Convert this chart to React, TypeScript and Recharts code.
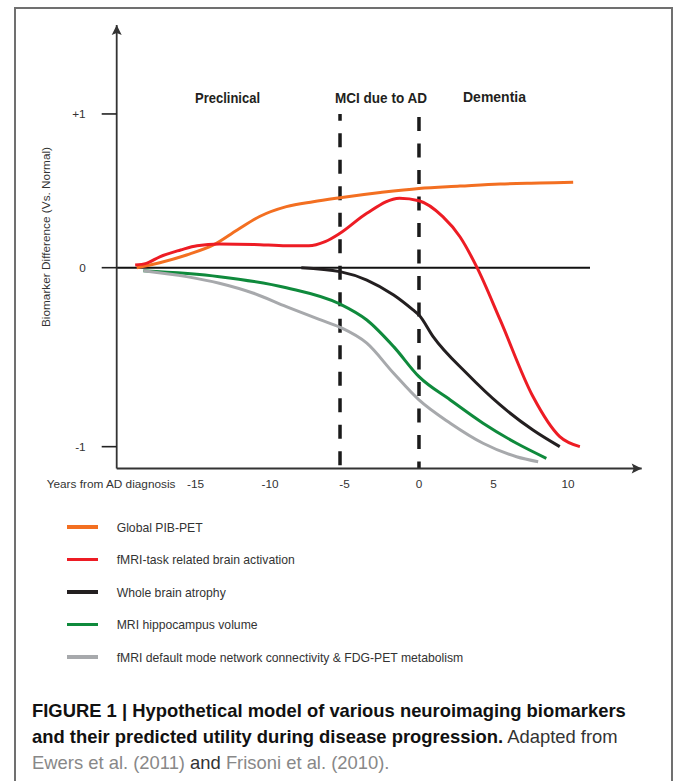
import React from 'react';
import { LineChart, Line, XAxis, YAxis, ReferenceLine, ReferenceDot, Legend } from 'recharts';

// years from AD diagnosis / biomarker difference
const pibYears = [-18.95, -17.4, -15.6, -13.8, -12.2, -10.7, -8.9, -7.1, -5.3, -2.6, 0, 2.75, 5.45, 8.1, 10.35];
const pibValues = [0, 0.028, 0.071, 0.127, 0.211, 0.286, 0.341, 0.369, 0.391, 0.42, 0.443, 0.456, 0.468, 0.473, 0.477];

const taskYears = [-19.05, -18.3, -17.4, -16.0, -14.9, -13.4, -11.1, -8.9, -7.4, -6.3, -5.3, -3.5, -1.3, 0, 1.6, 2.75, 3.9, 5.45, 7.65, 9.45, 10.8];
const taskValues = [0.015, 0.024, 0.061, 0.099, 0.123, 0.132, 0.13, 0.122, 0.122, 0.145, 0.192, 0.304, 0.388, 0.374, 0.285, 0.173, 0, -0.292, -0.72, -0.944, -1.0];

const atrophyYears = [-7.9, -5.3, -3.5, -1.7, -0.4, 0, 0.95, 3.2, 5.45, 7.65, 9.45];
const atrophyValues = [0, -0.022, -0.069, -0.153, -0.236, -0.264, -0.385, -0.59, -0.767, -0.907, -1.0];

const hippoYears = [-18.5, -13.4, -8.9, -5.3, -3.5, -1.7, 0, 2.1, 4.3, 6.55, 8.55];
const hippoValues = [-0.017, -0.05, -0.112, -0.203, -0.292, -0.441, -0.609, -0.739, -0.869, -0.981, -1.065];

const dmnYears = [-18.5, -15.6, -13.4, -11.1, -8.9, -6.6, -5.3, -3.5, -1.7, 0, 2.1, 4.3, 6.55, 8.0];
const dmnValues = [-0.017, -0.05, -0.087, -0.143, -0.218, -0.292, -0.333, -0.422, -0.59, -0.739, -0.869, -0.981, -1.056, -1.084];

const xTicks = [-15, -10, -5, 0, 5, 10];
const yTicks = [-1, 0, 0.859];
const yTickLabels = ['-1', '0', '+1'];
const phaseLines = [-5.3, 0];
const phaseNames = ['Preclinical', 'MCI due to AD', 'Dementia'];
const seriesNames = [
  'Global PIB-PET',
  'fMRI-task related brain activation',
  'Whole brain atrophy',
  'MRI hippocampus volume',
  'fMRI default mode network connectivity & FDG-PET metabolism',
];

const xMin = -20.29;
const xMax = 14.95;
const yMin = -1.122;
const yMax = 1.356;

const zip = (xs: number[], vs: number[]) => xs.map((x, i) => ({ x, v: vs[i] }));

const sans = "'Liberation Sans', Arial, sans-serif";

function LegendBox(props: any) {
  const items = [...(props.payload || [])].sort(
    (a: any, b: any) => seriesNames.indexOf(a.value) - seriesNames.indexOf(b.value)
  );
  return (
    <div>
      {items.map((item: any) => (
        <div key={item.value} style={{ display: 'flex', alignItems: 'center', height: 32.5 }}>
          <div style={{ width: 31.6, height: 3.4, background: item.color, marginRight: 18.4 }} />
          <span style={{ fontFamily: sans, fontSize: 12.2, color: '#333', position: 'relative', top: 1 }}>
            {item.value}
          </span>
        </div>
      ))}
    </div>
  );
}

const upArrow = (p: any) => (
  <path d={`M${p.cx},${p.cy} L${p.cx - 5},${p.cy + 10} L${p.cx},${p.cy + 8} L${p.cx + 5},${p.cy + 10} Z`} fill="#333" />
);
const rightArrow = (p: any) => (
  <path d={`M${p.cx},${p.cy} L${p.cx - 10},${p.cy - 5} L${p.cx - 8},${p.cy} L${p.cx - 10},${p.cy + 5} Z`} fill="#333" />
);

const phaseLabel = (text: string, cx: number, y: number, len: number) => (
  <text
    x={cx - len / 2}
    y={y}
    textLength={len}
    lengthAdjust="spacingAndGlyphs"
    fontFamily={sans}
    fontWeight={700}
    fontSize={15.5}
    fill="#231f20"
  >
    {text}
  </text>
);

export default function App() {
  return (
    <div style={{ position: 'absolute', left: 0, top: 0, width: 673, height: 781, overflow: 'hidden', background: '#fff' }}>
      <div
        style={{
          position: 'absolute',
          left: 14,
          top: 7,
          width: 655,
          height: 800,
          border: '2px solid #707070',
        }}
      />
      <div style={{ position: 'absolute', left: 0, top: 0 }}>
        <LineChart width={673} height={700} margin={{ top: 25, right: 31.3, left: 16.7, bottom: 201.5 }}>
          <XAxis
            type="number"
            dataKey="x"
            domain={[xMin, xMax]}
            ticks={xTicks}
            tickLine={false}
            tickSize={0}
            tickMargin={11}
            axisLine={{ stroke: '#333', strokeWidth: 1.8 }}
            tick={{ fill: '#333', fontSize: 11.8, fontFamily: sans }}
            height={30}
          />
          <YAxis
            type="number"
            domain={[yMin, yMax]}
            ticks={yTicks}
            tickFormatter={(v: number) => yTickLabels[yTicks.indexOf(v)]}
            tickSize={15}
            tickMargin={16}
            tickLine={{ stroke: '#222', strokeWidth: 1.6 }}
            axisLine={{ stroke: '#333', strokeWidth: 1.8 }}
            tick={{ fill: '#333', fontSize: 11.8, fontFamily: sans }}
            width={100}
          />
          <ReferenceLine
            segment={[{ x: xMin, y: 0 }, { x: 11.48, y: 0 }]}
            stroke="#111"
            strokeWidth={2}
            ifOverflow="visible"
          />
          <ReferenceLine
            segment={[{ x: phaseLines[0], y: 0.859 }, { x: phaseLines[0], y: yMin }]}
            stroke="#1a1a1a"
            strokeWidth={3.5}
            strokeDasharray="14 12.5"
            strokeDashoffset={7.3}
            ifOverflow="visible"
          />
          <ReferenceLine
            segment={[{ x: phaseLines[1], y: 0.842 }, { x: phaseLines[1], y: yMin }]}
            stroke="#1a1a1a"
            strokeWidth={3.5}
            strokeDasharray="14 12.5"
            ifOverflow="visible"
          />
          <ReferenceDot x={xMin} y={yMax} ifOverflow="visible" shape={upArrow} />
          <ReferenceDot x={xMax} y={yMin} ifOverflow="visible" shape={rightArrow} />
          <Line data={zip(pibYears, pibValues)} dataKey="v" name={seriesNames[0]} type="monotone" stroke="#f36f21" strokeWidth={3} dot={false} activeDot={false} isAnimationActive={false} />
          <Line data={zip(taskYears, taskValues)} dataKey="v" name={seriesNames[1]} type="monotone" stroke="#ed1c24" strokeWidth={3} dot={false} activeDot={false} isAnimationActive={false} />
          <Line data={zip(atrophyYears, atrophyValues)} dataKey="v" name={seriesNames[2]} type="monotone" stroke="#231f20" strokeWidth={3} dot={false} activeDot={false} isAnimationActive={false} />
          <Line data={zip(hippoYears, hippoValues)} dataKey="v" name={seriesNames[3]} type="monotone" stroke="#0f8a3c" strokeWidth={3} dot={false} activeDot={false} isAnimationActive={false} />
          <Line data={zip(dmnYears, dmnValues)} dataKey="v" name={seriesNames[4]} type="monotone" stroke="#a7a9ac" strokeWidth={3} dot={false} activeDot={false} isAnimationActive={false} />
          <Legend
            layout="vertical"
            align="center"
            verticalAlign="middle"
            content={<LegendBox />}
            wrapperStyle={{ left: 66.7, top: 510.7, width: 450 }}
          />
        </LineChart>
      </div>
      <svg width={673} height={781} style={{ position: 'absolute', left: 0, top: 0, pointerEvents: 'none' }}>
        {phaseLabel(phaseNames[0], 227.5, 103, 65)}
        {phaseLabel(phaseNames[1], 381, 102.5, 92)}
        {phaseLabel(phaseNames[2], 494.5, 102, 63)}
        <text x={46.7} y={487.5} fontFamily={sans} fontSize={11.8} fill="#333">
          Years from AD diagnosis
        </text>
        <text transform="translate(50,237) rotate(-90)" textAnchor="middle" fontFamily={sans} fontSize={11.8} fill="#333">
          Biomarker Difference (Vs. Normal)
        </text>
      </svg>
      <div
        style={{
          position: 'absolute',
          left: 32,
          top: 698,
          width: 635,
          fontFamily: sans,
          fontSize: 18.4,
          lineHeight: '26px',
          color: '#333',
          whiteSpace: 'nowrap',
        }}
      >
        <div>
          <b style={{ color: '#111' }}>FIGURE 1 | Hypothetical model of various neuroimaging biomarkers</b>
        </div>
        <div>
          <b style={{ color: '#111' }}>and their predicted utility during disease progression.</b> Adapted from
        </div>
        <div>
          <span style={{ color: '#888' }}>Ewers et al. (2011)</span> and <span style={{ color: '#888' }}>Frisoni et al. (2010)</span>
          <span style={{ color: '#888' }}>.</span>
        </div>
      </div>
    </div>
  );
}
